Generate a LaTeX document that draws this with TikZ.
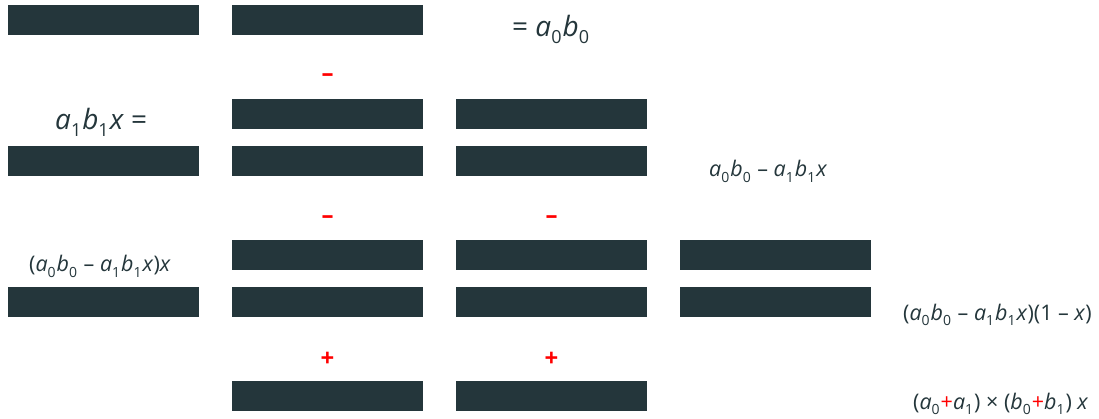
\documentclass[tikz,border=0pt]{standalone}
\usepackage{fontspec}
\setmainfont{Open Sans}
\definecolor{barc}{HTML}{24363B}
\definecolor{redc}{HTML}{FF0000}
\newcommand{\mysubA}[1]{\raisebox{-7pt}{\fontsize{18}{18}\selectfont\upshape #1}\kern1pt\relax}
\newcommand{\mysubB}[1]{\raisebox{-5.5pt}{\fontsize{14}{14}\selectfont\upshape #1}\kern1pt\relax}
\newcommand{\myvar}[1]{\textit{#1}}
\tikzset{
  bar/.style={fill=barc, draw=none, minimum width=191pt, minimum height=30pt, inner sep=0pt},
  bigtxt/.style={text=barc, font=\fontsize{28}{32}\selectfont, inner sep=0pt, anchor=base west},
  smalltxt/.style={text=barc, font=\fontsize{21.5}{26}\selectfont, inner sep=0pt, anchor=base west},
  opsign/.style={text=redc, font=\fontsize{24}{28}\selectfont\bfseries, inner sep=0pt},
}
\begin{document}
\begin{tikzpicture}[x=1pt,y=-1pt]
\useasboundingbox (0,0) rectangle (1099,419);
% bars
\node[bar] (r1c1) at (103.5,20) {};
\node[bar] (r1c2) at (327.5,20) {};
\node[bar] (r2c2) at (327.5,114) {};
\node[bar] (r2c3) at (551.5,114) {};
\node[bar] (r3c1) at (103.5,161) {};
\node[bar] (r3c2) at (327.5,161) {};
\node[bar] (r3c3) at (551.5,161) {};
\node[bar] (r4c2) at (327.5,255) {};
\node[bar] (r4c3) at (551.5,255) {};
\node[bar] (r4c4) at (775.5,255) {};
\node[bar] (r5c1) at (103.5,302) {};
\node[bar] (r5c2) at (327.5,302) {};
\node[bar] (r5c3) at (551.5,302) {};
\node[bar] (r5c4) at (775.5,302) {};
\node[bar] (r6c2) at (327.5,396) {};
\node[bar] (r6c3) at (551.5,396) {};
% signs
\node[opsign] (m1) at (327.5,78) {–};
\node[opsign] (m2) at (327.5,220) {–};
\node[opsign] (m3) at (551.5,220) {–};
\node[opsign] (p1) at (327.5,359) {+};
\node[opsign] (p2) at (551.5,359) {+};
% texts
\node[bigtxt] (t1) at (512,37) {= \myvar{a}\mysubA{0}\myvar{b}\mysubA{0}};
\node[bigtxt] (t2) at (55,130) {\myvar{a}\mysubA{1}\myvar{b}\mysubA{1}\myvar{x} =};
\node[smalltxt] (t3) at (29,272) {(\myvar{a}\mysubB{0}\myvar{b}\mysubB{0} – \myvar{a}\mysubB{1}\myvar{b}\mysubB{1}\myvar{x})\myvar{x}};
\node[smalltxt] (t4) at (709,177) {\myvar{a}\mysubB{0}\myvar{b}\mysubB{0} – \myvar{a}\mysubB{1}\myvar{b}\mysubB{1}\myvar{x}};
\node[smalltxt] (t5) at (903,320) {(\myvar{a}\mysubB{0}\myvar{b}\mysubB{0} – \myvar{a}\mysubB{1}\myvar{b}\mysubB{1}\myvar{x})(1 – \myvar{x})};
\node[smalltxt] (t6) at (913,409) {(\myvar{a}\mysubB{0}\textcolor{redc}{+}\myvar{a}\mysubB{1}) × (\myvar{b}\mysubB{0}\textcolor{redc}{+}\myvar{b}\mysubB{1}) \myvar{x}};
\end{tikzpicture}
\end{document}
